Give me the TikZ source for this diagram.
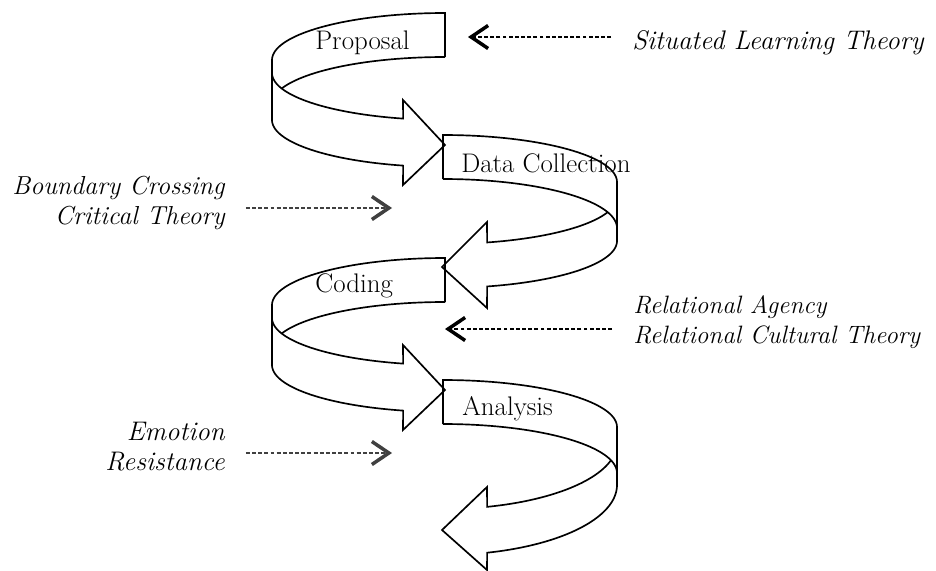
\documentclass[tikz,border=0pt]{standalone}
\usepackage{fontspec}
\usepackage{tikz}
\usetikzlibrary{arrows.meta,positioning}
\tikzset{band/.style={draw=black, line width=0.95pt, line join=miter}}
\tikzset{stage/.style={font=\fontsize{15.3}{18}\selectfont, inner sep=0pt}}
\tikzset{theory/.style={font=\fontsize{15.3}{17}\selectfont\itshape, inner sep=0pt}}
\tikzset{link/.style={dash pattern=on 2.2pt off 1.3pt, line width=0.6pt, shorten <=0.42cm,
  -{Straight Barb[length=3.4mm,width=4.6mm,line width=2pt]}}}

\begin{document}
\begin{tikzpicture}[x=0.02cm, y=-0.02cm]
\useasboundingbox (0,0) rectangle (936,571);

% first turn, to the left
\draw[band] (445,57) -- (445,13)
  -- plot[domain=90:180, samples=40, variable=\t] ({445+173*cos(\t)},{60-47*sin(\t)})
  -- (272,120)
  -- plot[domain=180:104, samples=40, variable=\t] ({445+173*cos(\t)},{120+47*sin(\t)})
  -- (403,185) -- (445,145) -- (403,100)
  -- plot[domain=104:180, samples=40, variable=\t] ({445+173*cos(\t)},{73+47*sin(\t)});
\draw[band] plot[domain=90:160.7, samples=40, variable=\t] ({445+173*cos(\t)},{104-47*sin(\t)});

% second turn, to the right
\draw[band] (443,179) -- (443,135)
  -- plot[domain=90:0, samples=40, variable=\t] ({443+174*cos(\t)},{182-47*sin(\t)})
  -- (617,241)
  -- plot[domain=0:75.3, samples=40, variable=\t] ({443+174*cos(\t)},{241+47*sin(\t)})
  -- (487,308) -- (442,267) -- (487,222)
  -- plot[domain=75.3:18.8, samples=40, variable=\t] ({443+174*cos(\t)},{197+47*sin(\t)});
\draw[band] plot[domain=90:0, samples=40, variable=\t] ({443+174*cos(\t)},{228-49*sin(\t)});

% third turn, to the left
\draw[band] (445,302) -- (445,258)
  -- plot[domain=90:180, samples=40, variable=\t] ({445+173*cos(\t)},{305-47*sin(\t)})
  -- (272,365)
  -- plot[domain=180:104, samples=40, variable=\t] ({445+173*cos(\t)},{365+47*sin(\t)})
  -- (403,430) -- (445,390) -- (403,345)
  -- plot[domain=104:180, samples=40, variable=\t] ({445+173*cos(\t)},{318+47*sin(\t)});
\draw[band] plot[domain=90:160.7, samples=40, variable=\t] ({445+173*cos(\t)},{349-47*sin(\t)});

% last turn, to the right
\draw[band] (443,424) -- (443,380)
  -- plot[domain=90:0, samples=40, variable=\t] ({443+174*cos(\t)},{427-47*sin(\t)})
  -- (617,485)
  -- plot[domain=0:75.3, samples=40, variable=\t] ({443+174*cos(\t)},{485+70*sin(\t)})
  -- (487,570) -- (442,530) -- (487,487)
  -- plot[domain=75.3:15, samples=40, variable=\t] ({443+174*cos(\t)},{443+66*sin(\t)});
\draw[band] plot[domain=90:0, samples=40, variable=\t] ({443+174*cos(\t)},{473-49*sin(\t)});

% stages
\node[stage, anchor=base west] (proposal) at (315,50) {Proposal};
\node[stage, anchor=base west] (collection) at (461,173) {Data Collection};
\node[stage, anchor=base west] (coding) at (315,292) {Coding};
\node[stage, anchor=base west] (analysis) at (462,415) {Analysis};

% theories
\node[theory, anchor=base west] (situated) at (632,50) {Situated Learning Theory};
\node[theory, anchor=east, align=right, font=\fontsize{14.8}{17}\selectfont\itshape] (boundary) at (225,203) {Boundary Crossing\\Critical Theory};
\node[theory, anchor=west, align=left, font=\fontsize{14.3}{17}\selectfont\itshape] (relational) at (633,322) {Relational Agency\\Relational Cultural Theory};
\node[theory, anchor=east, align=right] (emotion) at (225,447) {Emotion\\Resistance};

\coordinate (situatedtip) at (468,37);
\coordinate (boundarytip) at (392,208);
\coordinate (relationaltip) at (445,329);
\coordinate (emotiontip) at (392,453);

\draw[link] (situated.west |- situatedtip) -- (situatedtip);
\draw[link, black!75] (boundary.east |- boundarytip) -- (boundarytip);
\draw[link] (relational.west |- relationaltip) -- (relationaltip);
\draw[link, black!75] (emotion.east |- emotiontip) -- (emotiontip);
\end{tikzpicture}
\end{document}
